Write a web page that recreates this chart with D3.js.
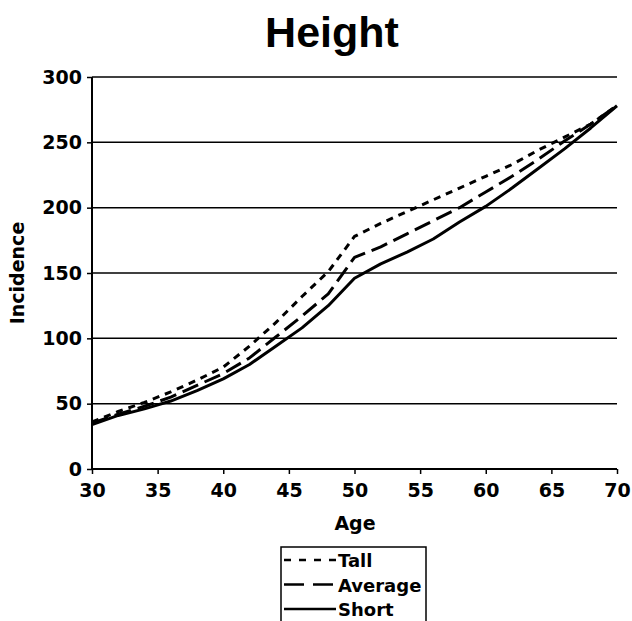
<!DOCTYPE html>
<html>
<head>
<meta charset="utf-8">
<script src="https://cdn.jsdelivr.net/npm/d3@7"></script>
<style>
  body { margin: 0; background: #fff; }
  text { fill: #000; }
</style>
</head>
<body>
<svg id="chart"></svg>
<script>
var width = 632, height = 621;

// ages (x) and incidence values
var ages    = [30, 32, 34, 36, 38, 40, 42, 44, 46, 48, 50, 52, 54, 56, 58, 60, 62, 64, 66, 68, 70];
var tall    = [36, 44, 51, 59, 68, 78, 94, 112, 132, 151, 178, 188, 197, 206, 215, 224, 233, 244, 254, 264, 278];
var average = [35, 42, 48, 55, 64, 73, 85, 101, 117, 134, 162, 170, 180, 190, 200, 212, 224, 237, 251, 264, 278];
var shortS  = [34, 41, 46, 52, 60, 69, 80, 94, 108, 125, 146, 157, 166, 176, 189, 201, 215, 230, 245, 261, 278];
var xTicks  = [30, 35, 40, 45, 50, 55, 60, 65, 70];
var yTicks  = [0, 50, 100, 150, 200, 250, 300];

var seriesNames = ["Tall", "Average", "Short"];
var seriesDash  = ["7,6", "17,7", null];
var seriesVals  = [tall, average, shortS];

var margin = {left: 92, right: 15, top: 77, bottom: 152};

var svg = d3.select("#chart")
  .attr("width", width)
  .attr("height", height);

var x = d3.scaleLinear().domain([30, 70]).range([margin.left, width - margin.right]);
var y = d3.scaleLinear().domain([0, 300]).range([height - margin.bottom, margin.top]);

// title
svg.append("text")
  .attr("x", 332).attr("y", 47)
  .attr("text-anchor", "middle")
  .style("font-family", "'Liberation Sans', Arial, sans-serif")
  .style("font-weight", "bold")
  .style("font-size", "43px")
  .text("Height");

// gridlines
svg.append("g")
  .selectAll("line")
  .data(yTicks.filter(function(d){ return d > 0; }))
  .enter()
  .append("line")
  .attr("x1", x(30)).attr("x2", x(70))
  .attr("y1", function(d){ return y(d); })
  .attr("y2", function(d){ return y(d); })
  .attr("stroke", "#000")
  .attr("stroke-width", 1.5);

var labelFont = "'DejaVu Sans', sans-serif";

// axes
var yAxis = svg.append("g")
  .attr("transform", "translate(" + x(30) + ",0)")
  .call(d3.axisLeft(y).tickValues(yTicks).tickSize(5).tickPadding(5));
var xAxis = svg.append("g")
  .attr("transform", "translate(0," + y(0) + ")")
  .call(d3.axisBottom(x).tickValues(xTicks).tickSize(5).tickPadding(10));

[yAxis, xAxis].forEach(function(ax){
  ax.select(".domain").attr("stroke", "#000").attr("stroke-width", 2);
  ax.selectAll(".tick line").attr("stroke", "#000").attr("stroke-width", 1.5);
  ax.selectAll(".tick text")
    .style("font-family", labelFont)
    .style("font-weight", "bold")
    .style("font-size", "19px")
    .attr("fill", "#000");
});
yAxis.select(".domain").attr("d", "M0," + y(300) + "V" + y(0));
xAxis.select(".domain").attr("d", "M" + x(30) + ",0H" + x(70));

// axis titles
svg.append("text")
  .attr("transform", "translate(24,273) rotate(-90)")
  .attr("text-anchor", "middle")
  .style("font-family", labelFont)
  .style("font-weight", "bold")
  .style("font-size", "19px")
  .text("Incidence");

svg.append("text")
  .attr("x", 355).attr("y", 530)
  .attr("text-anchor", "middle")
  .style("font-family", labelFont)
  .style("font-weight", "bold")
  .style("font-size", "19px")
  .text("Age");

// lines
var line = d3.line()
  .x(function(d){ return x(d[0]); })
  .y(function(d){ return y(d[1]); });

seriesVals.forEach(function(vals, i){
  svg.append("path")
    .datum(ages.map(function(a, j){ return [a, vals[j]]; }))
    .attr("d", line)
    .attr("fill", "none")
    .attr("stroke", "#000")
    .attr("stroke-width", 3)
    .attr("stroke-linejoin", "round")
    .attr("stroke-dasharray", seriesDash[i]);
});

// legend
var legend = svg.append("g").attr("transform", "translate(281,547)");
legend.append("rect")
  .attr("x", 0).attr("y", 0)
  .attr("width", 145).attr("height", 90)
  .attr("fill", "#fff")
  .attr("stroke", "#000")
  .attr("stroke-width", 1.5);

var item = legend.selectAll(".item")
  .data(seriesNames)
  .enter()
  .append("g")
  .attr("class", "item")
  .attr("transform", function(d, i){ return "translate(0," + (13 + i * 24.5) + ")"; });

item.append("line")
  .attr("x1", 3).attr("x2", 55)
  .attr("y1", 0).attr("y2", 0)
  .attr("stroke", "#000")
  .attr("stroke-width", 2.5)
  .attr("stroke-dasharray", function(d, i){ return seriesDash[i] ? (i == 0 ? "7,8" : "20,9") : null; });

item.append("text")
  .attr("x", 57).attr("y", 7)
  .style("font-family", labelFont)
  .style("font-weight", "bold")
  .style("font-size", "18px")
  .text(function(d){ return d; });
</script>
</body>
</html>
